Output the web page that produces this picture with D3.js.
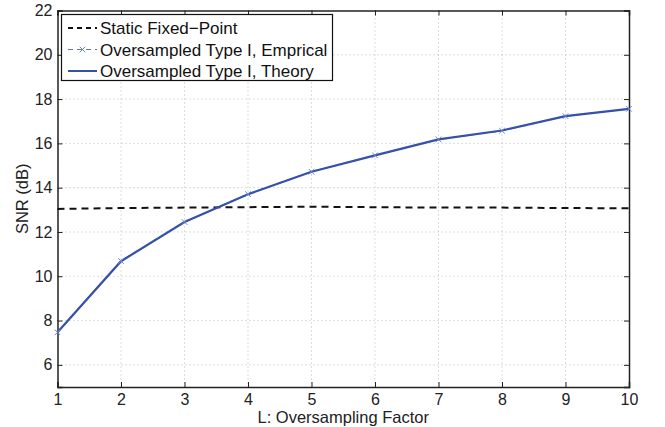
<!DOCTYPE html>
<html>
<head>
<meta charset="utf-8">
<script src="https://cdn.jsdelivr.net/npm/d3@7"></script>
<style>
body{margin:0;background:#fff;}
text{font-family:"Liberation Sans",Arial,sans-serif;}
</style>
</head>
<body>
<div id="chart"></div>
<script>
// data
var L = [1,2,3,4,5,6,7,8,9,10]
var staticFixed = [13.04,13.08,13.1,13.12,13.14,13.12,13.1,13.1,13.08,13.07]
var empirical = [7.47,10.69,12.45,13.71,14.72,15.46,16.18,16.57,17.23,17.56]
var theory = [7.47,10.68,12.45,13.70,14.72,15.46,16.18,16.58,17.23,17.56]
var xTicks = [1,2,3,4,5,6,7,8,9,10]
var yTicks = [6,8,10,12,14,16,18,20,22]

var W = 665, H = 427
var margin = {top:10.5, right:36, bottom:40, left:57.5}
var w = W - margin.left - margin.right
var h = H - margin.top - margin.bottom
var blue = "#3551a8"

var svg = d3.select("#chart").append("svg").attr("width",W).attr("height",H)
var g = svg.append("g").attr("transform","translate("+margin.left+","+margin.top+")")

var x = d3.scaleLinear().domain([1,10]).range([0,w])
var y = d3.scaleLinear().domain([5,22]).range([h,0])

// grid
g.selectAll(".gx").data(xTicks.slice(1,-1)).enter().append("line")
  .attr("x1",d=>x(d)).attr("x2",d=>x(d)).attr("y1",0).attr("y2",h)
  .attr("stroke","#aaa").attr("stroke-width",0.8).attr("stroke-dasharray","1,3")
g.selectAll(".gy").data(yTicks.slice(0,-1)).enter().append("line")
  .attr("x1",0).attr("x2",w).attr("y1",d=>y(d)).attr("y2",d=>y(d))
  .attr("stroke","#aaa").attr("stroke-width",0.8).attr("stroke-dasharray","1,3")

// axes
var xAxis = g.append("g").attr("transform","translate(0,"+h+")")
  .call(d3.axisBottom(x).tickValues(xTicks).tickSize(-5).tickPadding(7).tickFormat(d3.format("d")))
var xTop = g.append("g").call(d3.axisTop(x).tickValues(xTicks).tickSize(-5).tickFormat(""))
var yAxis = g.append("g")
  .call(d3.axisLeft(y).tickValues(yTicks).tickSize(-5).tickPadding(5).tickFormat(d3.format("d")))
var yRight = g.append("g").attr("transform","translate("+w+",0)")
  .call(d3.axisRight(y).tickValues(yTicks).tickSize(-5).tickFormat(""))
;[xAxis,xTop,yAxis,yRight].forEach(function(a){
  a.select(".domain").attr("stroke","#222").attr("stroke-width",1.5)
  a.selectAll(".tick line").attr("stroke","#222")
  a.selectAll("text").attr("font-size","16px").attr("fill","#222")
    .style("font-family","'Liberation Sans',Arial,sans-serif")
})

// lines
var line = d3.line().x((d,i)=>x(L[i])).y(d=>y(d))
g.append("path").datum(staticFixed).attr("d",line).attr("fill","none")
  .attr("stroke","#111").attr("stroke-width",2).attr("stroke-dasharray","7,5")
g.append("path").datum(empirical).attr("d",line).attr("fill","none")
  .attr("stroke","#5a78c4").attr("stroke-width",1.2).attr("stroke-dasharray","6,4")
g.append("path").datum(theory).attr("d",line).attr("fill","none")
  .attr("stroke",blue).attr("stroke-width",2.2)
var xm = d3.symbol().type(d3.symbolX).size(22)
g.selectAll(".mk").data(empirical).enter().append("path")
  .attr("d",xm).attr("transform",(d,i)=>"translate("+x(L[i])+","+y(d)+")")
  .attr("stroke","#6a86cc").attr("stroke-width",1).attr("fill","none")

// legend
var lg = svg.append("g").attr("transform","translate(61.5,14.5)")
lg.append("rect").attr("width",271).attr("height",66).attr("fill","#fff")
  .attr("stroke","#111").attr("stroke-width",1.2)
var items = [
  {t:"Static Fixed\u2212Point", c:"#111", dash:"5,4", sw:2, mk:false},
  {t:"Oversampled Type I, Emprical", c:"#5a78c4", dash:"5,4", sw:1.2, mk:true},
  {t:"Oversampled Type I, Theory", c:blue, dash:null, sw:2, mk:false}
]
items.forEach(function(it,i){
  var yy = 13.5 + i*21.5
  lg.append("line").attr("x1",6.5).attr("x2",35.5).attr("y1",yy).attr("y2",yy)
    .attr("stroke",it.c).attr("stroke-width",it.sw).attr("stroke-dasharray",it.dash)
  if(it.mk) lg.append("path").attr("d",xm).attr("transform","translate(21,"+yy+")")
    .attr("stroke","#6a86cc").attr("fill","none")
  lg.append("text").attr("x",38.5).attr("y",yy+6).attr("font-size","17px").attr("fill","#111").text(it.t)
})

// axis titles
svg.append("text").attr("x",margin.left+w/2).attr("y",423).attr("text-anchor","middle")
  .attr("font-size","16.5px").attr("fill","#222").text("L: Oversampling Factor")
svg.append("text").attr("transform","translate(28,"+(margin.top+h/2)+") rotate(-90)")
  .attr("text-anchor","middle").attr("font-size","16.5px").attr("fill","#222").text("SNR (dB)")
</script>
</body>
</html>
